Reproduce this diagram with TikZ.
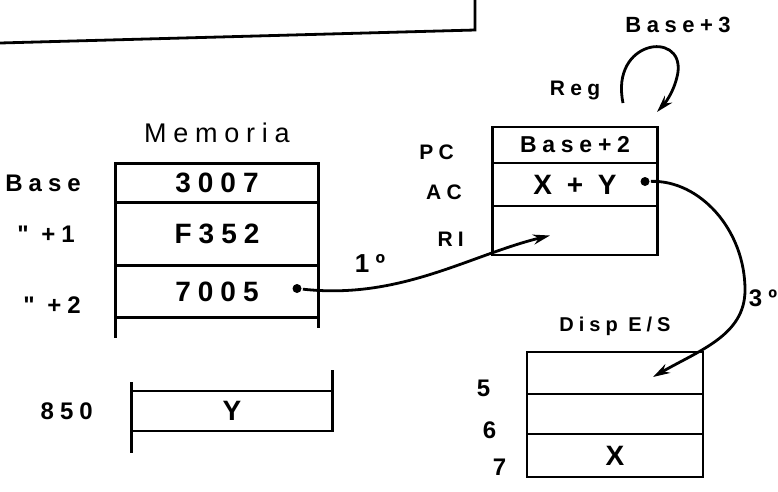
\documentclass[tikz,border=0pt]{standalone}
\usepackage{fontspec}
\newfontfamily\handfont{Liberation Sans}[LetterSpace=25]
\usetikzlibrary{positioning,arrows.meta,calc}

\begin{document}
\begin{tikzpicture}[x=1pt,y=-1pt,>={Stealth[length=17pt,width=10pt]},line width=2.8pt,
                    cell/.style={draw,outer sep=0pt,inner sep=0pt,minimum width=203pt,
                    font=\handfont\bfseries\fontsize{28}{30}\selectfont},
                    lbl/.style={font=\handfont\bfseries\fontsize{24}{26}\selectfont},
                    small lbl/.style={font=\handfont\bfseries\fontsize{21}{23}\selectfont},
                    dot/.style={circle,fill,inner sep=0pt,minimum size=9pt}]
\useasboundingbox (0,0) rectangle (778,491);

% frame above
\draw (0,43) -- (475,30) -- (475,0);

% Memoria
\node[cell,minimum height=39pt] (m1) at (217,183) {3007};
\node[cell,minimum height=63pt,below=0pt of m1] (m2) {F352};
\node[cell,minimum height=52pt,below=0pt of m2] (m3) {7005};
\draw (m3.south west) -- ++(0,20)
      (m3.south east) -- ++(0,10);
\node[lbl,font=\handfont\fontsize{27}{29}\selectfont,above=16pt of m1] (memtitle) {Memoria};
\node[lbl,left=30pt of m1] (base) {Base};
\node[lbl,left=36pt of m2] (base1) {" +1};
\node[lbl,left=30pt of m3,yshift=-14pt] (base2) {" +2};
\node[dot] (d1) at ($(m3.center)+(80,-3)$) {};

\node[cell,minimum width=201pt,minimum height=40pt] (y850) at (232,411) {Y};
\draw (y850.north west) -- ++(0,-9)
      (y850.south west) -- ++(0,22)
      (y850.north east) -- ++(0,-21);
\node[lbl,left=34pt of y850] (dir850) {850};

% Reg
\node[cell,minimum width=165pt,minimum height=36pt,font=\handfont\bfseries\fontsize{23}{25}\selectfont] (r1) at (575,145) {Base+2};
\node[cell,minimum width=165pt,minimum height=43pt,below=0pt of r1] (r2) {X + Y};
\node[cell,minimum width=165pt,minimum height=49pt,below=0pt of r2] (r3) {};
\node[small lbl,above=22pt of r1] (reg) {Reg};
\node[small lbl,left=34pt of r1,yshift=-7pt] (pc) {PC};
\node[small lbl,left=26pt of r2,yshift=-8pt] (ac) {AC};
\node[small lbl,left=24pt of r3,yshift=-9pt] (ri) {RI};
\node[dot] (d2) at ($(r2.center)+(70,-3)$) {};
\coordinate (ritip) at ($(r3.center)+(-25,5)$);

\coordinate (loopa) at (623,103);
\coordinate (loopb) at (657,112);
\draw[->] (loopa) .. controls (610,40) and (683,30) .. (678,72)
                  .. controls (675,90) and (666,102) .. (loopb);
\node[lbl,font=\handfont\bfseries\fontsize{22}{24}\selectfont] (base3) at (678,25) {Base+3};

% Disp E/S
\node[cell,minimum width=176pt,minimum height=42pt] (s1) at (615,373) {};
\node[cell,minimum width=176pt,minimum height=40pt,below=0pt of s1] (s2) {};
\node[cell,minimum width=176pt,minimum height=43pt,below=0pt of s2] (s3) {X};
\node[small lbl,font=\handfont\bfseries\fontsize{20}{22}\selectfont,above=12pt of s1] (disp) {Disp E/S};
\node[lbl,left=32pt of s1,yshift=-15pt] (n5) {5};
\node[lbl,left=26pt of s2,yshift=-16pt] (n6) {6};
\node[lbl,left=16pt of s3,yshift=-12pt] (n7) {7};
\coordinate (stip) at ($(s1.center)+(38,4)$);

% transfers
\draw[->] (d1) .. controls (400,300) and (470,255) .. (ritip);
\node[lbl,font=\handfont\bfseries\fontsize{26}{28}\selectfont] (paso1) at (370,263) {1º};
\draw[->] (d2) .. controls (700,180) and (745,230) .. (745,290)
               .. controls (745,335) and (700,350) .. (stip);
\node[lbl] (paso3) at (763,298) {3º};

\end{tikzpicture}
\end{document}
